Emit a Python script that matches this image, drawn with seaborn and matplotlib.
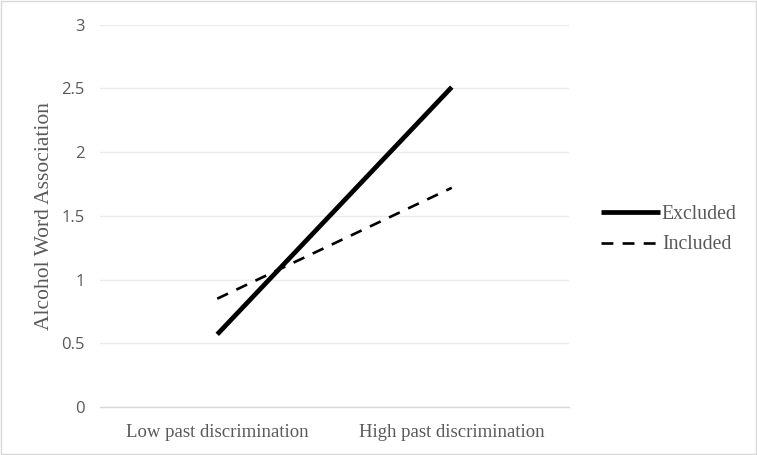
import matplotlib
matplotlib.use("Agg")
import matplotlib.pyplot as plt
import seaborn as sns
import pandas as pd
from matplotlib.patches import Rectangle
from matplotlib.lines import Line2D

categories = ["Low past discrimination", "High past discrimination"]
excluded = [0.57, 2.51]
included = [0.85, 1.72]
series_names = ["Excluded", "Included"]
yticks = [0, 0.5, 1, 1.5, 2, 2.5, 3]
ytick_labels = ["0", "0.5", "1", "1.5", "2", "2.5", "3"]

df = pd.DataFrame({
    "x": list(range(len(categories))) * 2,
    "value": excluded + included,
    "group": [series_names[0]] * len(categories) + [series_names[1]] * len(categories),
})

sns.set_theme(style="white")
fig = plt.figure(figsize=(7.57, 4.55), dpi=100)
ax = fig.add_axes([100/757, 1 - 407/455, 469/757, (407 - 24.7)/455])

sns.lineplot(data=df, x="x", y="value", hue="group", style="group",
             palette={"Excluded": "black", "Included": "black"},
             dashes={"Excluded": "", "Included": (4.5, 3.5)},
             size="group", sizes={"Excluded": 3.4, "Included": 1.9},
             ax=ax, legend=False)
for ln in ax.get_lines():
    ln.set_solid_capstyle("butt")
    ln.set_dash_capstyle("butt")

ax.set_xlim(-0.5, 1.5)
ax.set_ylim(0, 3)
ax.set_yticks(yticks)
ax.set_yticklabels(ytick_labels, fontfamily="Open Sans", fontsize=12, color="#595959")
ax.set_xticks(range(len(categories)))
ax.set_xticklabels(categories, fontfamily="Liberation Serif", fontsize=13.5, color="#595959")
ax.tick_params(axis="y", length=0, pad=11)
ax.tick_params(axis="x", length=0, pad=12)
ax.grid(axis="y", color="#ebebeb", linewidth=1.0)
ax.set_axisbelow(True)
for s in ["top", "right", "left"]:
    ax.spines[s].set_visible(False)
ax.spines["bottom"].set_color("#d9d9d9")
ax.spines["bottom"].set_linewidth(1.0)
ax.set_xlabel("")
ax.set_ylabel("Alcohol Word Association", fontfamily="Liberation Serif", fontsize=15.5, color="#595959", labelpad=5)

handles = [Line2D([], [], color="black", lw=3.4, solid_capstyle="butt"),
           Line2D([], [], color="black", lw=1.9, linestyle=(0, (4.5, 3.5)))]
leg = fig.legend(handles, series_names, loc="center left", bbox_to_anchor=(583/757, 1 - 229.5/455),
                 frameon=False, prop={"family": "Liberation Serif", "size": 14.2},
                 handlelength=3.0, handletextpad=0.1, labelspacing=0.6)
for t in leg.get_texts():
    t.set_color("#595959")

fig.patches.append(Rectangle((1/757, 1/455), 755/757, 453/455, transform=fig.transFigure,
                             fill=False, edgecolor="#d9d9d9", linewidth=1.0))

fig.savefig("out.png", dpi=100)
